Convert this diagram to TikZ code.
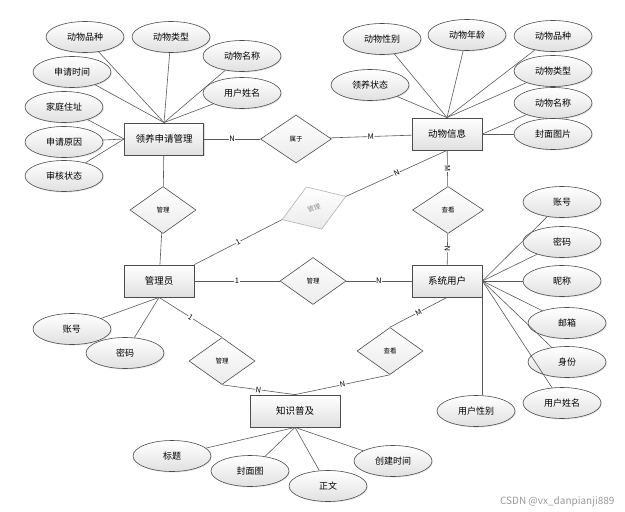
\documentclass[tikz,border=0pt]{standalone}
\usepackage{fontspec}
\setmainfont{Noto Sans CJK SC}
\usetikzlibrary{shapes.geometric,shadows}
\begin{document}
\begin{tikzpicture}[x=1pt,y=-1pt]
\tikzset{
  ent/.style={draw=black!70, line width=0.8pt, top color=white, bottom color=black!12,
    minimum width=70pt, minimum height=32pt, inner sep=0pt, font=\fontsize{9.5}{11}\selectfont,
    drop shadow={opacity=0.25, shadow xshift=1.2pt, shadow yshift=-1.2pt}},
  attr/.style={ellipse, draw=black!70, line width=0.6pt, top color=white, bottom color=black!12,
    minimum width=78pt, minimum height=31pt, inner sep=0pt, font=\fontsize{9}{11}\selectfont,
    drop shadow={opacity=0.2, shadow xshift=1pt, shadow yshift=-1pt}},
  rel/.style={diamond, draw=black!70, line width=0.6pt, top color=white, bottom color=black!8,
    minimum width=66pt, minimum height=47pt, inner sep=0pt, font=\fontsize{6.5}{8}\selectfont},
  card/.style={midway, sloped, fill=white, inner sep=0.5pt, font=\fontsize{7.5}{9}\selectfont},
  link/.style={draw=black!65, line width=0.6pt}
}
\useasboundingbox (0,0) rectangle (625,512);

% entities
\node[ent, minimum width=79pt] (app) at (164,139) {领养申请管理};
\node[ent] (info) at (447,134) {动物信息};
\node[ent] (admin) at (159,281) {管理员};
\node[ent] (sys) at (447,281) {系统用户};
\node[ent, minimum width=90pt] (know) at (295,411) {知识普及};

% relations
\node[rel, minimum width=71pt, minimum height=48pt] (belong) at (296,139) {属于};
\node[rel] (mgrA) at (163,210) {管理};
\node[rel, rotate=20, draw=black!30, text=black!45, minimum width=68pt, minimum height=45pt] (mgrB) at (314,208) {管理};
\node[rel] (mgrC) at (313,281) {管理};
\node[rel] (mgrD) at (222,361) {管理};
\node[rel, minimum width=71pt] (viewA) at (448,210) {查看};
\node[rel] (viewB) at (390,351) {查看};

\draw[link] (app) -- node[card] {N} (belong);
\draw[link] (belong) -- node[card] {M} (info);
\draw[link] (app) -- (mgrA);
\draw[link] (mgrA) -- (admin);
\draw[link] (admin.north east) -- node[card] {1} (mgrB.west);
\draw[link] (mgrB.east) -- node[card] {N} (info.south);
\draw[link] (info) -- node[card] {M} (viewA);
\draw[link] (viewA) -- node[card] {N} (sys);
\draw[link] (admin) -- node[card] {1} (mgrC);
\draw[link] (mgrC) -- node[card] {N} (sys);
\draw[link] (admin.south) -- node[card] {1} (mgrD.north);
\draw[link] (mgrD.south) -- node[card] {N} (know.north);
\draw[link] (sys.south) -- node[card] {M} (viewB.north);
\draw[link] (viewB.south) -- node[card] {N} (know.north);

% attributes of the application
\node[attr] (appBreed) at (85,37) {动物品种};
\node[attr] (appType) at (171,37) {动物类型};
\node[attr] (appName) at (242,56) {动物名称};
\node[attr] (appUser) at (242,93) {用户姓名};
\node[attr] (appTime) at (72,72) {申请时间};
\node[attr] (appAddr) at (64,107) {家庭住址};
\node[attr] (appReason) at (64,142) {申请原因};
\node[attr] (appState) at (64,176) {审核状态};
\foreach \a in {appBreed,appType,appName,appUser,appTime}
  \draw[link] (app.north) -- (\a);
\foreach \a in {appAddr,appReason,appState}
  \draw[link] (app.west) -- (\a);

% attributes of the animal
\node[attr] (infoSex) at (382,39) {动物性别};
\node[attr] (infoAge) at (467,35) {动物年龄};
\node[attr] (infoBreed) at (553,36) {动物品种};
\node[attr] (infoType) at (553,71) {动物类型};
\node[attr] (infoName) at (553,103) {动物名称};
\node[attr] (infoPic) at (553,134) {封面图片};
\node[attr] (infoState) at (370,85) {领养状态};
\foreach \a in {infoSex,infoAge,infoBreed,infoType,infoState}
  \draw[link] (info.north) -- (\a);
\foreach \a in {infoName,infoPic}
  \draw[link] (info.east) -- (\a);

% attributes of the user
\node[attr] (sysAcc) at (562,202) {账号};
\node[attr] (sysPwd) at (562,242) {密码};
\node[attr] (sysNick) at (562,281) {昵称};
\node[attr] (sysMail) at (567,323) {邮箱};
\node[attr] (sysRole) at (567,362) {身份};
\node[attr] (sysName) at (562,403) {用户姓名};
\node[attr] (sysSex) at (476,411) {用户性别};
\foreach \a in {sysAcc,sysPwd,sysNick,sysMail,sysRole,sysName}
  \draw[link] (sys.east) -- (\a);
\draw[link] (sys.south east) -- (sys.south east |- sysSex.north);

% attributes of the admin
\node[attr] (admAcc) at (72,329) {账号};
\node[attr] (admPwd) at (125,353) {密码};
\draw[link] (admin.south) -- (admAcc);
\draw[link] (admin.south) -- (admPwd);

% attributes of the knowledge
\node[attr] (kTitle) at (172,456) {标题};
\node[attr] (kCover) at (250,471) {封面图};
\node[attr] (kText) at (328,486) {正文};
\node[attr] (kTime) at (393,461) {创建时间};
\foreach \a in {kTitle,kCover,kText,kTime}
  \draw[link] (know.south) -- (\a);

\node[text=black!40, font=\fontsize{10}{12}\selectfont, anchor=east] (mark) at (618,502) {CSDN @vx\_danpianji889};
\end{tikzpicture}
\end{document}
